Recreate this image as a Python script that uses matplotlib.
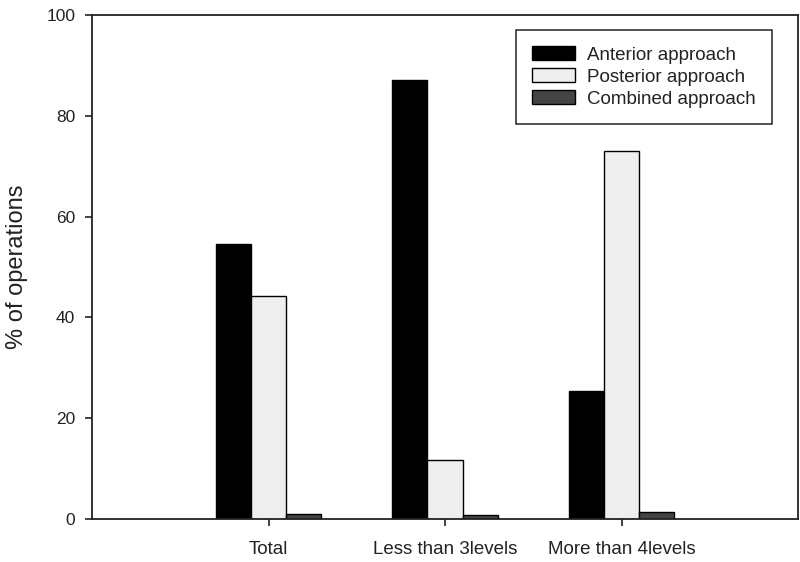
import matplotlib
matplotlib.use("Agg")
import matplotlib.pyplot as plt
import numpy as np

plt.rcParams['font.family'] = ['Liberation Sans', 'DejaVu Sans']

# values
groups = ['Total', 'Less than 3levels', 'More than 4levels']
series = ['Anterior approach', 'Posterior approach', 'Combined approach']
anterior = [54.6, 87.2, 25.5]
posterior = [44.3, 11.7, 73.1]
combined = [1.0, 0.8, 1.4]
colors = ['#000000', '#eeeeee', '#444444']

fig = plt.figure(figsize=(8, 5.62), dpi=100)
ax = fig.add_axes([0.115, 0.0765, 0.8825, 0.8965])

x = np.arange(len(groups))
width = 0.2
for i, (vals, name) in enumerate(zip([anterior, posterior, combined], series)):
    ax.bar(x + (i - 1) * width, vals, width, color=colors[i],
           edgecolor='black', linewidth=1.0, label=name)

ax.set_xlim(-1, 3)
ax.set_ylim(0, 100)
ax.set_yticks([0, 20, 40, 60, 80, 100])
ax.set_xticks(x)
ax.set_xticklabels(groups)
ax.tick_params(axis='both', direction='out', colors='#222222',
               length=5, width=1.2)
ax.tick_params(axis='x', labelsize=13.5, pad=11)
ax.tick_params(axis='y', labelsize=12.5, pad=7)
for s in ax.spines.values():
    s.set_linewidth(1.3)
    s.set_color('#222222')

ax.set_ylabel('% of operations', fontsize=17, color='#222222')
ax.yaxis.set_label_coords(-0.091, 0.5)

leg = ax.legend(loc='upper right', bbox_to_anchor=(0.965, 0.946),
                bbox_transform=fig.transFigure, fontsize=13.5,
                frameon=True, fancybox=False, edgecolor='black',
                handlelength=2.3, handleheight=0.75, handletextpad=0.64,
                labelspacing=0.25, borderpad=0.85, borderaxespad=0)
leg.get_frame().set_linewidth(1.2)
for t in leg.get_texts():
    t.set_color('#222222')

fig.savefig('out.png', dpi=100)
